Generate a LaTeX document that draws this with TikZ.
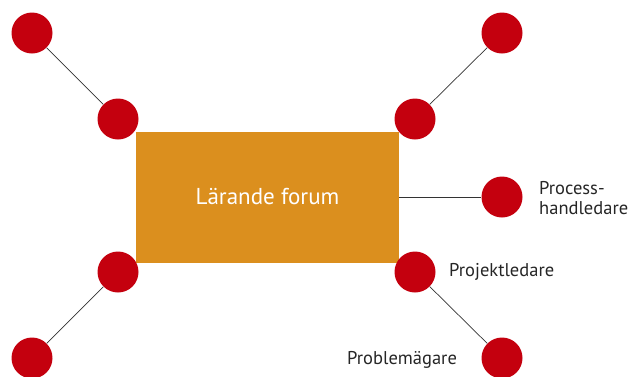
\documentclass[tikz,border=0pt]{standalone}
\usepackage{fontspec}
\setmainfont{PT Sans}
\usetikzlibrary{positioning}
\definecolor{dotred}{HTML}{C4000E}
\definecolor{forumorange}{HTML}{DB8F1E}
\definecolor{labelgray}{HTML}{262626}
\tikzset{dot/.style={circle, fill=dotred, minimum size=41pt, inner sep=0pt},
forum/.style={fill=forumorange, minimum width=263pt, minimum height=131pt, text=white, font=\fontsize{23}{27}\selectfont},
tag/.style={anchor=west, align=left, text=labelgray, inner sep=0pt, font=\fontsize{18.5}{19.5}\selectfont},
line/.style={draw=black!80, line width=0.7pt}
}
\begin{document}
\begin{tikzpicture}[x=1pt, y=-1pt]
    \useasboundingbox (0,0) rectangle (632,376);
    % Nodes
    \node [forum] (forum) at (267.5,197) {Lärande forum};
    \node [dot] (tlout) at (32,33) {};
    \node [dot] (tlin) at (118,119) {};
    \node [dot] (trout) at (502,33) {};
    \node [dot] (trin) at (415,119) {};
    \node [dot] (blin) at (118,272) {};
    \node [dot] (blout) at (32,358) {};
    \node [dot] (process) at (502,197) {};
    \node [dot] (projekt) at (415,272) {};
    \node [dot] (problem) at (502,358) {};
    % Labels
    \node [tag] (processtag) at (539,198) {Process-\\handledare};
    \node [tag] (projekttag) at (449,272) {Projektledare};
    \node [tag] (problemtag) at (347,360) {Problemägare};
    % Lines
    \draw [line] (tlin) -- (tlout);
    \draw [line] (trin) -- (trout);
    \draw [line] (blin) -- (blout);
    \draw [line] (forum) -- (process);
    \draw [line] (projekt) -- (problem);
\end{tikzpicture}
\end{document}
